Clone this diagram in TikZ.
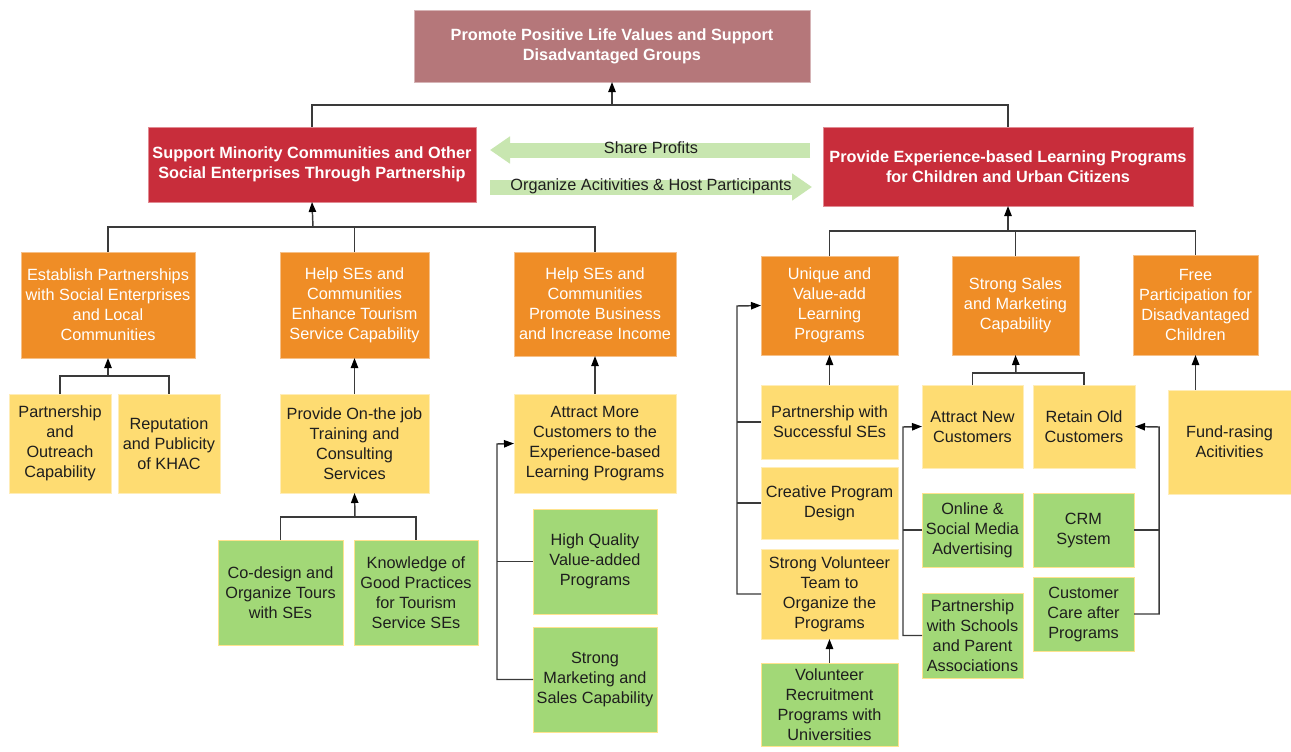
\documentclass[tikz,border=0pt]{standalone}
\usepackage{fontspec}
\setmainfont{Liberation Sans}
\usetikzlibrary{arrows.meta,calc}

\definecolor{rosec}{HTML}{B5777A}
\definecolor{redc}{HTML}{C82D3B}
\definecolor{orangec}{HTML}{EF8D26}
\definecolor{yellowc}{HTML}{FEDC72}
\definecolor{greenc}{HTML}{A2D877}
\definecolor{flowc}{HTML}{C8E6B0}
\definecolor{linec}{HTML}{3A3A3A}
\definecolor{inkc}{HTML}{1E1E1E}

\tikzset{
  box/.style={inner sep=0pt, outer sep=0pt, align=center, line width=0.6pt,
    font=\fontsize{12.2}{15}\selectfont},
  goal/.style={box, fill=rosec, draw=rosec!55!white, text=white,
    font=\fontsize{12.2}{15}\selectfont\bfseries},
  objective/.style={box, fill=redc, draw=redc!55!white, text=white,
    font=\fontsize{12.2}{15}\selectfont\bfseries},
  driver/.style={box, fill=orangec, draw=orangec!55!white, text=white},
  factor/.style={box, fill=yellowc, draw=yellowc!50!white, text=inkc},
  action/.style={box, fill=greenc, draw=yellowc!80!white, text=inkc},
  conn/.style={draw=linec, line width=1.1pt},
  arr/.style={conn, -{Triangle[length=7.5pt,width=5.5pt,color=black]}},
  flow/.style={draw=flowc, line width=11.25pt,
    -{Triangle[length=15pt,width=19.5pt]}},
  flowlabel/.style={text=inkc, font=\fontsize{12.2}{15}\selectfont}
}

% box by corner coordinates: name, style, x1, y1, x2, y2, text
\newcommand\bx[7]{%
  \pgfmathsetmacro\bxw{(#5-#3)*0.75}%
  \pgfmathsetmacro\bxh{(#6-#4)*0.75}%
  \node[#2, minimum width=\bxw pt, minimum height=\bxh pt] (#1)
    at ({(#3+#5)/2},{(#4+#6)/2}) {#7};}

\begin{document}
\begin{tikzpicture}[x=0.75pt, y=-0.75pt]
\fill[white] (0,0) rectangle (1291,751);
\useasboundingbox (0,0) rectangle (1291,751);

% goal and objectives
\bx{top}{goal}{414}{10}{810}{82}{Promote Positive Life Values and Support\\Disadvantaged Groups}
\bx{L}{objective}{148}{127}{476}{202}{Support Minority Communities and Other\\Social Enterprises Through Partnership}
\bx{R}{objective}{823}{127}{1193}{206}{Provide Experience-based Learning Programs\\for Children and Urban Citizens}

% drivers
\bx{O1}{driver}{21}{252}{195}{358}{Establish Partnerships\\with Social Enterprises\\and Local\\Communities}
\bx{O2}{driver}{280}{252}{429}{358}{Help SEs and\\Communities\\Enhance Tourism\\Service Capability}
\bx{O3}{driver}{514}{252}{676}{356}{Help SEs and\\Communities\\Promote Business\\and Increase Income}
\bx{O4}{driver}{761}{256}{898}{355}{Unique and\\Value-add\\Learning\\Programs}
\bx{O5}{driver}{952}{256}{1079}{355}{Strong Sales\\and Marketing\\Capability}
\bx{O6}{driver}{1133}{255}{1258}{355}{Free\\Participation for\\Disadvantaged\\Children}

% success factors
\bx{Y1}{factor}{9}{394}{111}{493}{Partnership\\and\\Outreach\\Capability}
\bx{Y2}{factor}{118}{394}{220}{493}{Reputation\\and Publicity\\of KHAC}
\bx{Y3}{factor}{280}{394}{429}{493}{Provide On-the job\\Training and\\Consulting\\Services}
\bx{Y4}{factor}{514}{394}{676}{493}{Attract More\\Customers to the\\Experience-based\\Learning Programs}
\bx{Y5}{factor}{761}{385}{898}{459}{Partnership with\\Successful SEs}
\bx{Y6}{factor}{761}{467}{898}{539}{Creative Program\\Design}
\bx{Y7}{factor}{761}{549}{898}{639}{Strong Volunteer\\Team to\\Organize the\\Programs}
\bx{Y8}{factor}{922}{385}{1023}{468}{Attract New\\Customers}
\bx{Y9}{factor}{1033}{385}{1135}{468}{Retain Old\\Customers}
\bx{Y10}{factor}{1168}{390}{1291}{494}{Fund-rasing\\Acitivities}

% actions
\bx{G1}{action}{218}{540}{343}{645}{Co-design and\\Organize Tours\\with SEs}
\bx{G2}{action}{354}{540}{478}{645}{Knowledge of\\Good Practices\\for Tourism\\Service SEs}
\bx{G3}{action}{533}{509}{657}{614}{High Quality\\Value-added\\Programs}
\bx{G4}{action}{533}{627}{657}{732}{Strong\\Marketing and\\Sales Capability}
\bx{G5}{action}{761}{663}{898}{746}{Volunteer\\Recruitment\\Programs with\\Universities}
\bx{G6}{action}{922}{493}{1023}{567}{Online \&\\Social Media\\Advertising}
\bx{G7}{action}{922}{593}{1023}{678}{Partnership\\with Schools\\and Parent\\Associations}
\bx{G8}{action}{1033}{493}{1134}{567}{CRM\\System}
\bx{G9}{action}{1033}{577}{1134}{651}{Customer\\Care after\\Programs}

% exchange between the two objectives
\coordinate (sp1) at (810,150);
\coordinate (sp2) at (490,150);
\coordinate (oa1) at (490,187);
\coordinate (oa2) at (812,187);
\draw[flow] (sp1) -- (sp2);
\draw[flow] (oa1) -- (oa2);
\node[flowlabel] (splabel) at (651,148) {Share Profits};
\node[flowlabel] (oalabel) at (651,186) {Organize Acitivities \& Host Participants};

% objectives to goal
\coordinate (tb) at (612,105);
\draw[conn] (L.north) |- (tb) -| (R.north);
\draw[arr] (tb) -- (top.south);

% drivers to objectives
\coordinate (lb) at (313,227);
\draw[conn] (O1.north) |- (lb) -| (O3.north);
\draw[conn] (O2.north) -- (O2.north |- lb);
\draw[arr] (lb) -- (L.south);
\coordinate (rb) at (1008,231);
\draw[conn] (O4.north) |- (rb) -| (O6.north);
\draw[conn] (O5.north) -- (O5.north |- rb);
\draw[arr] (rb) -- (R.south);

% factors to drivers
\coordinate (b1) at (108,376);
\draw[conn] (Y1.north) |- (b1) -| (Y2.north);
\draw[arr] (b1) -- (O1.south);
\draw[arr] (Y3.north) -- (O2.south);
\draw[arr] (Y4.north) -- (O3.south);
\draw[arr] (Y5.north) -- (O4.south);
\coordinate (b5) at (1016,373);
\draw[conn] (Y8.north) |- (b5) -| (Y9.north);
\draw[arr] (b5) -- (O5.south);
\draw[arr] (O6.south |- Y10.north) -- (O6.south);

\coordinate (cB) at (737,306);
\draw[arr] (Y7.west) -| (cB) -- (O4.west);
\draw[conn] (Y5.west) -- (Y5.west -| cB);
\draw[conn] (Y6.west) -- (Y6.west -| cB);

% actions to factors
\coordinate (b3) at (355,517);
\draw[conn] (G1.north) |- (b3) -| (G2.north);
\draw[arr] (b3) -- (Y3.south);

\coordinate (cA) at (497,444);
\draw[arr] (G4.west) -| (cA) -- (Y4.west);
\draw[conn] (G3.west) -- (G3.west -| cA);

\draw[arr] (G5.north) -- (Y7.south);

\coordinate (cC) at (903,427);
\draw[arr] (G7.west) -| (cC) -- (Y8.west);
\draw[conn] (G6.west) -- (G6.west -| cC);

\coordinate (cD) at (1159,427);
\draw[arr] (G9.east) -| (cD) -- (Y9.east);
\draw[conn] (G8.east) -- (G8.east -| cD);
\end{tikzpicture}
\end{document}
